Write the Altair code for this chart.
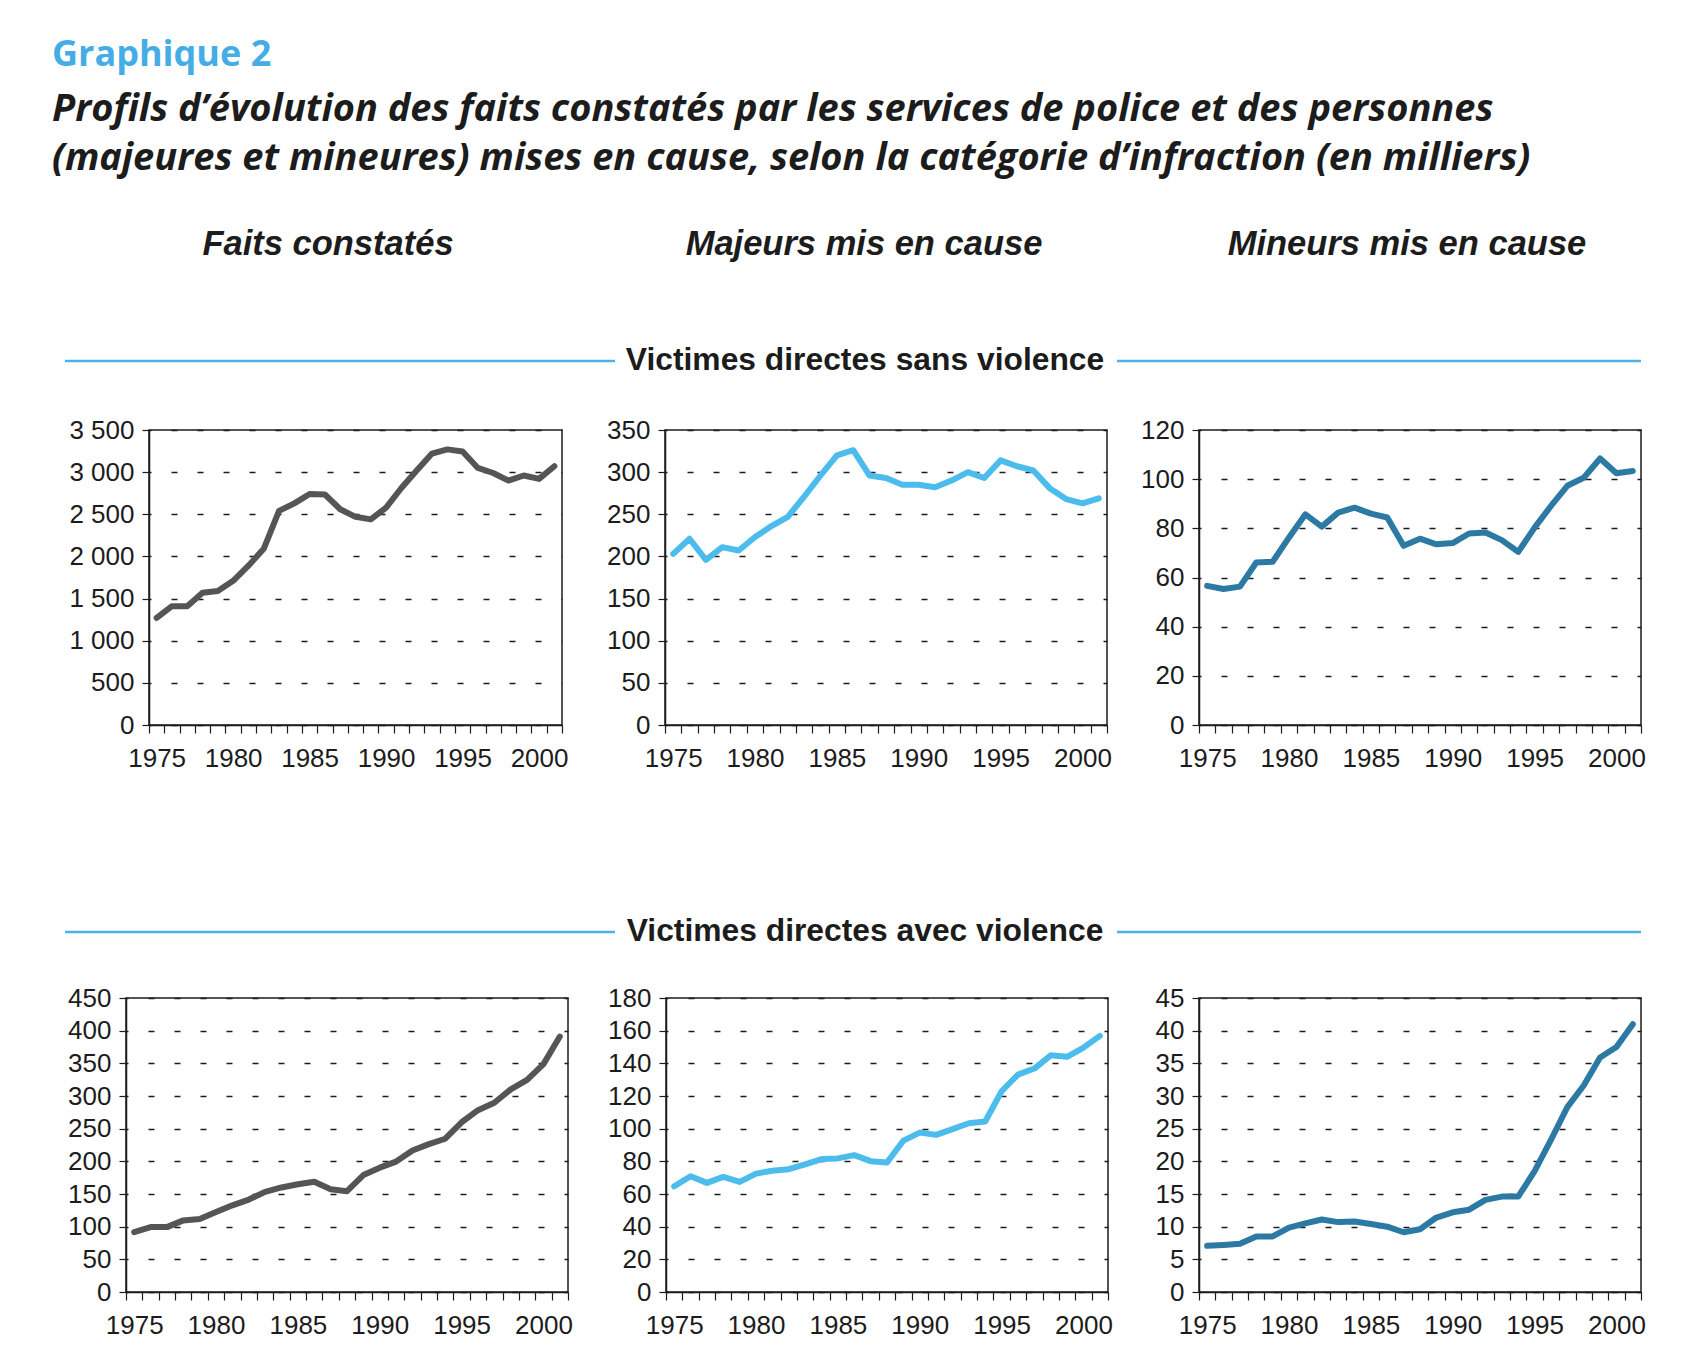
import altair as alt
import pandas as pd

# ---------------- data ----------------
years = [1975, 1976, 1977, 1978, 1979, 1980, 1981, 1982, 1983, 1984, 1985, 1986, 1987, 1988,
         1989, 1990, 1991, 1992, 1993, 1994, 1995, 1996, 1997, 1998, 1999, 2000, 2001]

faits_sans = [1270, 1410, 1410, 1570, 1590, 1710, 1890, 2090, 2540, 2630, 2740, 2735, 2560, 2470,
              2440, 2580, 2812, 3020, 3220, 3270, 3245, 3050, 2990, 2900, 2960, 2920, 3070]
majeurs_sans = [203, 221, 196, 211, 207, 223, 236, 247, 271, 296, 320, 326, 296, 293,
                285, 285, 282, 290, 300, 293, 314, 307, 302, 281, 268, 263, 269]
mineurs_sans = [56.6, 55.3, 56.3, 66.1, 66.4, 76.3, 85.7, 80.7, 86.4, 88.4, 86.0, 84.4, 72.9, 75.8,
                73.5, 74.0, 77.9, 78.3, 75.2, 70.4, 80.3, 89.1, 97.3, 100.6, 108.4, 102.4, 103.3]

faits_avec = [91.6, 99.3, 99.3, 109.6, 111.6, 122.4, 132.7, 141.5, 153.3, 160, 165, 168.7, 157.4, 154.3,
              179, 190.3, 199.6, 216.6, 226.3, 234.6, 259.8, 278.3, 289.6, 310.2, 324.6, 348.8, 391]
majeurs_avec = [64.7, 70.9, 66.8, 70.5, 67.4, 72.5, 74.2, 75.2, 78.1, 81.4, 81.8, 83.8, 80.1, 79.3,
                92.7, 97.6, 96.2, 99.7, 103.3, 104.4, 122.9, 133.1, 136.8, 144.9, 144.0, 149.6, 156.8]
mineurs_avec = [7.07, 7.2, 7.37, 8.5, 8.5, 9.86, 10.5, 11.1, 10.7, 10.8, 10.4, 10.0, 9.15, 9.6,
                11.4, 12.2, 12.6, 14.1, 14.6, 14.6, 18.5, 23.3, 28.3, 31.6, 35.9, 37.5, 41.0]

col_titles = ["Faits constatés", "Majeurs mis en cause", "Mineurs mis en cause"]
row_titles = ["Victimes directes sans violence", "Victimes directes avec violence"]
x_labels = [1975, 1980, 1985, 1990, 1995, 2000]
y_ticks = {
    "faits_sans": [0, 500, 1000, 1500, 2000, 2500, 3000, 3500],
    "majeurs_sans": [0, 50, 100, 150, 200, 250, 300, 350],
    "mineurs_sans": [0, 20, 40, 60, 80, 100, 120],
    "faits_avec": [0, 50, 100, 150, 200, 250, 300, 350, 400, 450],
    "majeurs_avec": [0, 20, 40, 60, 80, 100, 120, 140, 160, 180],
    "mineurs_avec": [0, 5, 10, 15, 20, 25, 30, 35, 40, 45],
}

# ---------------- style ----------------
GRAY = "#555557"
LIGHT = "#4CBCEC"
TEAL = "#2C79A3"
BLUE_RULE = "#4DB3E6"
INK = "#1c1c1c"
FONT = "Liberation Sans"

band_edges = [years[0] - 0.5 + k for k in range(len(years) + 1)]


def panel(values, color, ticks, width, extent, height):
    df = pd.DataFrame({"annee": years, "valeur": values})
    x_axis = alt.Axis(
        values=band_edges + x_labels,
        tickSize=8, tickColor=INK, tickWidth=1.2,
        tickOpacity={"condition": {"test": "datum.value % 1 !== 0", "value": 1}, "value": 0},
        labelExpr="datum.value % 5 === 0 ? '' + datum.value : ''",
        labelFont=FONT, labelFontSize=26, labelColor=INK, labelPadding=12,
        labelOverlap=False, labelFlush=False, labelBound=False,
        domainColor=INK, domainWidth=1.5, grid=False,
    )
    y_axis = alt.Axis(
        values=ticks,
        tickSize=7, tickColor=INK, tickWidth=1.2,
        labelExpr="replace(format(datum.value, ','), ',', ' ')",
        labelFont=FONT, labelFontSize=26, labelColor=INK, labelPadding=8,
        labelFlush=False, labelOverlap=False,
        domainColor=INK, domainWidth=1.5,
        grid=True, gridColor=INK, gridWidth=1.3, gridDash=[6, 20], gridDashOffset=4,
        minExtent=extent, maxExtent=extent,
    )
    return alt.Chart(df).mark_line(
        color=color, strokeWidth=6, strokeCap="round", strokeJoin="round"
    ).encode(
        x=alt.X("annee:Q", title=None,
                scale=alt.Scale(domain=[band_edges[0], band_edges[-1]], nice=False, zero=False),
                axis=x_axis),
        y=alt.Y("valeur:Q", title=None,
                scale=alt.Scale(domain=[0, ticks[-1]], nice=False),
                axis=y_axis),
    ).properties(width=width, height=height,
                 view=alt.ViewBackground(stroke=INK, strokeWidth=1.5))


def spacer():
    return alt.Chart(pd.DataFrame({"t": [""]})).mark_text().encode(
        text="t:N").properties(width=1, height=1,
                               view=alt.ViewBackground(strokeOpacity=0, strokeWidth=0))


FULL_W = 1576


def band(title, height, line_y, base_y, headers=False, header_y=67):
    d = pd.DataFrame({"t": [title]})
    layers = [
        alt.Chart(d).mark_rule(color=BLUE_RULE, strokeWidth=2.5).encode(
            x=alt.value(0), x2=alt.value(550), y=alt.value(line_y)),
        alt.Chart(d).mark_rule(color=BLUE_RULE, strokeWidth=2.5).encode(
            x=alt.value(1052), x2=alt.value(FULL_W), y=alt.value(line_y)),
        alt.Chart(d).mark_text(font=FONT, fontSize=31.8, fontWeight="bold", color=INK,
                               align="center", baseline="alphabetic").encode(
            text="t:N", x=alt.value(800), y=alt.value(base_y)),
    ]
    if headers:
        centers = [263, 799, 1342]
        for name, cx in zip(col_titles, centers):
            hd = pd.DataFrame({"t": [name]})
            layers.append(
                alt.Chart(hd).mark_text(font=FONT, fontSize=34.5, fontWeight="bold",
                                        fontStyle="italic", color=INK, align="center",
                                        baseline="alphabetic").encode(
                    text="t:N", x=alt.value(cx), y=alt.value(header_y)))
    return alt.layer(*layers).properties(
        width=FULL_W, height=height,
        view=alt.ViewBackground(strokeOpacity=0, strokeWidth=0))


top_row = alt.concat(
    spacer(),
    panel(faits_sans, GRAY, y_ticks["faits_sans"], 413, 82, 295),
    panel(majeurs_sans, LIGHT, y_ticks["majeurs_sans"], 442, 95, 295),
    panel(mineurs_sans, TEAL, y_ticks["mineurs_sans"], 442, 85, 295),
    columns=4, spacing=0, align="none",
)
bottom_row = alt.concat(
    spacer(),
    panel(faits_avec, GRAY, y_ticks["faits_avec"], 442, 58, 294),
    panel(majeurs_avec, LIGHT, y_ticks["majeurs_avec"], 442, 91, 294),
    panel(mineurs_avec, TEAL, y_ticks["mineurs_avec"], 442, 84, 294),
    columns=4, spacing=0, align="none",
)

chart = alt.concat(
    band(row_titles[0], 228, 173, 182, headers=True, header_y=67),
    top_row,
    band(row_titles[1], 212, 160, 169),
    bottom_row,
    columns=1, spacing=0, align="none",
).properties(
    title=alt.TitleParams(
        text="Graphique 2",
        subtitle=["Profils d’évolution des faits constatés par les services de police et des personnes",
                  "(majeures et mineures) mises en cause, selon la catégorie d’infraction (en milliers)"],
        anchor="start", frame="group", dx=-13, offset=9,
        font="Open Sans", fontSize=36, fontWeight="bold", color="#45ADE6",
        subtitleFont="Open Sans", subtitleFontSize=38, subtitleFontWeight="bold",
        subtitleFontStyle="italic", subtitleColor=INK, subtitleLineHeight=49,
        subtitlePadding=17,
    ),
    padding={"left": 44, "top": 29, "right": 10, "bottom": 10},
).configure(background="white")

chart.save("out.html", embed_options={"renderer": "svg", "actions": False})
